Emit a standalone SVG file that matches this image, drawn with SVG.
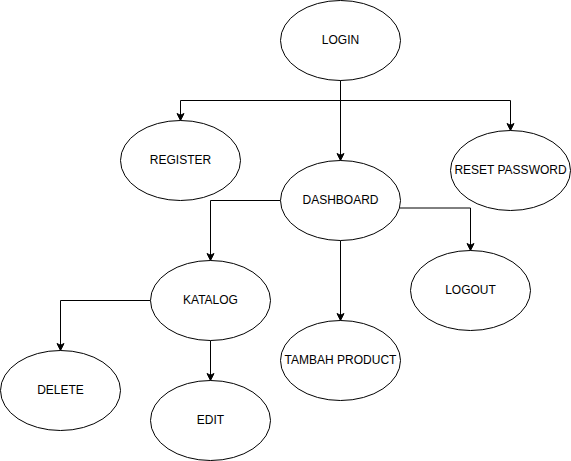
<svg xmlns="http://www.w3.org/2000/svg" width="571" height="461" viewBox="0 0 571 461">
<style>
.n ellipse{fill:#fff;stroke:#000;stroke-width:1}
.n text{font-family:"Liberation Sans",Arial,sans-serif;font-size:12px;fill:#000;text-anchor:middle;dominant-baseline:central}
.e path{fill:none;stroke:#000;stroke-width:1;marker-end:url(#arr)}
</style>
<defs>
<marker id="arr" markerUnits="userSpaceOnUse" markerWidth="10" markerHeight="10" viewBox="-8 -5 10 10" refX="0" refY="0" orient="auto">
<path d="M0,0 L-7,-3.5 L-5.25,0 L-7,3.5 Z" fill="#000" stroke="#000" stroke-width="1"/>
</marker>
</defs>
<rect width="571" height="461" fill="#fff"/>
<g class="e" id="connectors">
<path d="M340.5,80.5 V100.5 H180.5 V120.5"/>
<path d="M340.5,80.5 V160.5"/>
<path d="M340.5,80.5 V100.5 H510.5 V130.5"/>
<path d="M280.5,200.5 H210.5 V260.5"/>
<path d="M399.5,208 H470.5 V250.5"/>
<path d="M340.5,240.5 V320.5"/>
<path d="M150.5,300.5 H60.5 V350.5"/>
<path d="M210.5,340.5 V380.5"/>
</g>
<g class="n" id="login"><ellipse cx="340.5" cy="40.5" rx="60" ry="40"/><text x="340.5" y="39.5">LOGIN</text></g>
<g class="n" id="register"><ellipse cx="180.5" cy="160.5" rx="60" ry="40"/><text x="180.5" y="159.5">REGISTER</text></g>
<g class="n" id="dashboard"><ellipse cx="340.5" cy="200.5" rx="60" ry="40"/><text x="340.5" y="199.5">DASHBOARD</text></g>
<g class="n" id="reset"><ellipse cx="510.5" cy="170.5" rx="60" ry="40"/><text x="510.5" y="169.5">RESET PASSWORD</text></g>
<g class="n" id="katalog"><ellipse cx="210.5" cy="300.5" rx="60" ry="40"/><text x="210.5" y="299.5">KATALOG</text></g>
<g class="n" id="logout"><ellipse cx="470.5" cy="290.5" rx="60" ry="40"/><text x="470.5" y="289.5">LOGOUT</text></g>
<g class="n" id="tambah"><ellipse cx="340.5" cy="360.5" rx="60" ry="40"/><text x="340.5" y="359.5">TAMBAH PRODUCT</text></g>
<g class="n" id="delete"><ellipse cx="60.5" cy="390.5" rx="60" ry="40"/><text x="60.5" y="389.5">DELETE</text></g>
<g class="n" id="edit"><ellipse cx="210.5" cy="420.5" rx="60" ry="40"/><text x="210.5" y="419.5">EDIT</text></g>
</svg>
